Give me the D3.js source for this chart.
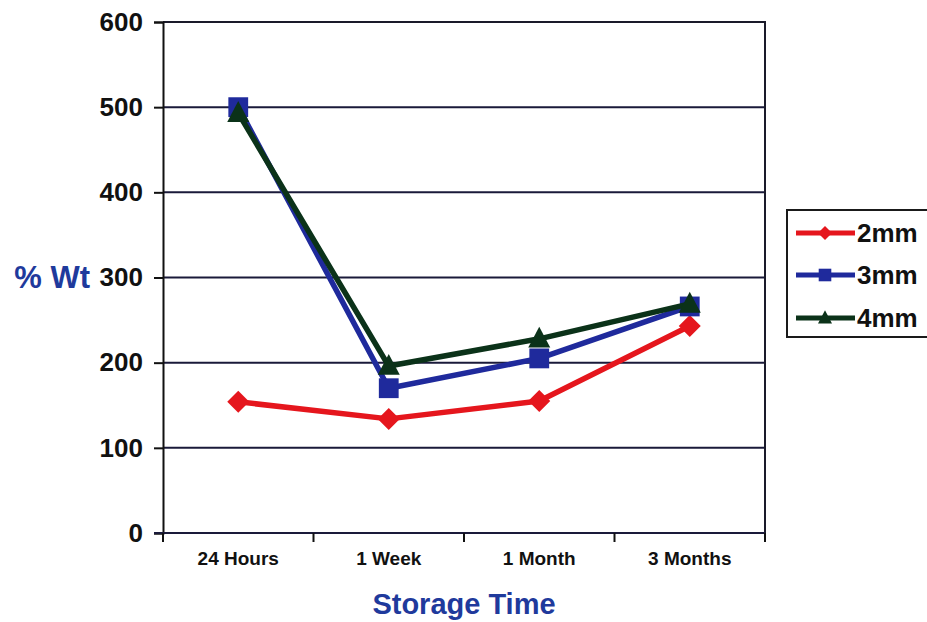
<!DOCTYPE html>
<html><head><meta charset="utf-8">
<script src="https://cdn.jsdelivr.net/npm/d3@7"></script>
<style>body{margin:0;background:#fff}svg{display:block}text{font-family:"Liberation Sans",Arial,sans-serif;font-weight:bold}</style>
</head><body>
<svg id="c" width="927" height="622"></svg>
<script>
const categories = ["24 Hours", "1 Week", "1 Month", "3 Months"];
const seriesNames = ["2mm", "3mm", "4mm"];
const values2mm = [154, 134, 155, 243];
const values3mm = [500, 170, 205, 266];
const values4mm = [493, 196, 228, 269];
const yTicks = [0, 100, 200, 300, 400, 500, 600];
const colors = ["#e5161d", "#1f2a9c", "#0b3219"];
const markers = ["diamond", "square", "triangle"];

const svg = d3.select("#c");
const L = 163, R = 765, T = 22, B = 533;
const x = d3.scaleBand().domain(categories).range([L, R]);
const y = d3.scaleLinear().domain([0, 600]).range([B, T]);

// gridlines
svg.append("g").selectAll("line").data(yTicks.filter(d => d > 0 && d < 600)).join("line")
  .attr("x1", L).attr("x2", R).attr("y1", d => y(d)).attr("y2", d => y(d))
  .attr("stroke", "#1a1a3a").attr("stroke-width", 2);
// border top/right
svg.append("path").attr("d", `M${L},${T}H${R}V${B}`).attr("fill", "none").attr("stroke", "#1a1a2a").attr("stroke-width", 2);

// y axis
const ya = svg.append("g").attr("transform", `translate(${L},0)`)
  .call(d3.axisLeft(y).tickValues(yTicks).tickSize(9).tickPadding(11));
ya.attr("font-size", null).attr("font-family", null);
ya.select(".domain").attr("stroke", "#111").attr("stroke-width", 2);
ya.selectAll(".tick line").attr("stroke", "#111").attr("stroke-width", 2);
ya.selectAll("text").style("font-size", "26px").attr("fill", "#111");

// x axis
const xa = svg.append("g").attr("transform", `translate(0,${B})`)
  .call(d3.axisBottom(x).tickSize(0).tickPadding(19));
xa.attr("font-size", null).attr("font-family", null);
xa.select(".domain").remove();
xa.selectAll("text").style("font-size", "19px").attr("fill", "#111");
svg.append("line").attr("x1", L - 9).attr("x2", R).attr("y1", B).attr("y2", B).attr("stroke", "#1a1a3a").attr("stroke-width", 2);
const bounds = categories.map(c => x(c)).concat([x(categories[categories.length - 1]) + x.bandwidth()]);
svg.append("g").selectAll("line").data(bounds).join("line")
  .attr("x1", d => d).attr("x2", d => d).attr("y1", B).attr("y2", B + 9)
  .attr("stroke", "#111").attr("stroke-width", 2);

// axis titles
svg.append("text").attr("x", 90).attr("y", 288).attr("text-anchor", "end")
  .style("font-size", "31px").attr("fill", "#1f3a9c").text("% Wt");
svg.append("text").attr("x", 464).attr("y", 614).attr("text-anchor", "middle")
  .style("font-size", "29px").attr("fill", "#1f3a9c").text("Storage Time");

function markerPath(type, s) {
  if (type === "diamond") return `M0,${-s}L${s},0L0,${s}L${-s},0Z`;
  if (type === "square") return `M${-s*0.9},${-s*0.9}H${s*0.9}V${s*0.9}H${-s*0.9}Z`;
  return `M0,${-s*1.1}L${s},${s*0.8}H${-s}Z`;
}

const data = [values2mm, values3mm, values4mm];
const line = d3.line().x((d, i) => x(categories[i]) + x.bandwidth() / 2).y(d => y(d));
data.forEach((vals, si) => {
  const g = svg.append("g");
  g.append("path").attr("d", line(vals)).attr("fill", "none").attr("stroke", colors[si]).attr("stroke-width", 5.5).attr("stroke-linejoin", "round");
  g.selectAll("path.m").data(vals).join("path").attr("class", "m")
    .attr("transform", (d, i) => `translate(${x(categories[i]) + x.bandwidth() / 2},${y(d)})`)
    .attr("d", markerPath(markers[si], 11)).attr("fill", colors[si]);
});

// legend
const lg = svg.append("g");
lg.append("rect").attr("x", 787).attr("y", 210).attr("width", 150).attr("height", 127)
  .attr("fill", "#fff").attr("stroke", "#1a1a1a").attr("stroke-width", 2);
const ly = [233, 275, 318];
seriesNames.forEach((n, i) => {
  lg.append("line").attr("x1", 796).attr("x2", 855).attr("y1", ly[i]).attr("y2", ly[i]).attr("stroke", colors[i]).attr("stroke-width", 5);
  lg.append("path").attr("transform", `translate(825,${ly[i]})`).attr("d", markerPath(markers[i], 7)).attr("fill", colors[i]);
  lg.append("text").attr("x", 857).attr("y", ly[i] + 9).style("font-size", "26px").attr("fill", "#111").text(n);
});
</script>
</body></html>
